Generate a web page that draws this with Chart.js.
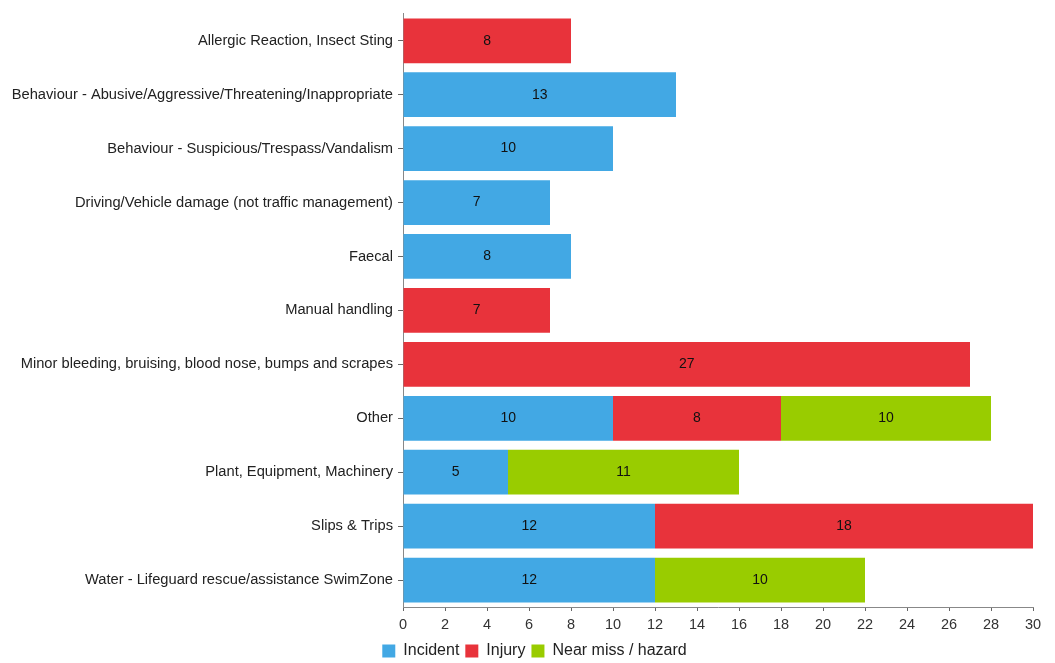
<!DOCTYPE html>
<html>
<head>
<meta charset="utf-8">
<script src="https://cdn.jsdelivr.net/npm/chart.js@4"></script>
<style>
  html, body { margin: 0; padding: 0; background: #fff; }
  #wrap { width: 1055px; height: 663px; }
</style>
</head>
<body>
<div id="wrap"><canvas id="chart"></canvas></div>
<script>
const categories = [
	"Allergic Reaction, Insect Sting",
	"Behaviour - Abusive/Aggressive/Threatening/Inappropriate",
	"Behaviour - Suspicious/Trespass/Vandalism",
	"Driving/Vehicle damage (not traffic management)",
	"Faecal",
	"Manual handling",
	"Minor bleeding, bruising, blood nose, bumps and scrapes",
	"Other",
	"Plant, Equipment, Machinery",
	"Slips & Trips",
	"Water - Lifeguard rescue/assistance SwimZone",
];

const incident = [0, 13, 10, 7, 8, 0, 0, 10, 5, 12, 12];
const injury = [8, 0, 0, 0, 0, 7, 27, 8, 0, 18, 0];
const nearMiss = [0, 0, 0, 0, 0, 0, 0, 10, 11, 0, 10];

const font = "'Liberation Sans', Arial, sans-serif";

// values in the middle of each segment
const barValues = {
	id: "barValues",
	afterDatasetsDraw(chart) {
		const { ctx } = chart;
		ctx.save();
		ctx.font = `14px ${font}`;
		ctx.fillStyle = "#111";
		ctx.textAlign = "center";
		ctx.textBaseline = "middle";
		chart.data.datasets.forEach((ds, i) => {
			chart.getDatasetMeta(i).data.forEach((bar, j) => {
				const v = ds.data[j];
				if (!v) return;
				ctx.fillText(String(v), (bar.x + bar.base) / 2, bar.y);
			});
		});
		ctx.restore();
	},
};

// legend in the original sits a bit right of the canvas centre
const legendShift = {
	id: "legendShift",
	afterLayout(chart) {
		if (!chart.legend) return;
		chart.legend.left += 18;
		chart.legend.right += 18;
		chart.legend.adjustHitBoxes && chart.legend.adjustHitBoxes();
	},
};

new Chart(document.getElementById("chart"), {
	type: "bar",
	plugins: [barValues, legendShift],
	data: {
		labels: categories,
		datasets: [
			{ label: "Incident", data: incident, backgroundColor: "#42a8e4" },
			{ label: "Injury", data: injury, backgroundColor: "#e8333b" },
			{ label: "Near miss / hazard", data: nearMiss, backgroundColor: "#99cc00" },
		],
	},
	options: {
		indexAxis: "y",
		responsive: true,
		maintainAspectRatio: false,
		animation: false,
		layout: { padding: { top: 9, right: 22, left: 0, bottom: -6 } },
		datasets: { bar: { categoryPercentage: 0.83, barPercentage: 1 } },
		scales: {
			x: {
				stacked: true,
				min: 0,
				max: 30,
				ticks: { stepSize: 2, color: "#333", font: { family: font, size: 14.5 }, padding: 5 },
				grid: { drawOnChartArea: false, drawTicks: true, tickLength: 4, color: "#666" },
				border: { display: true, color: "#888", width: 1 },
				afterFit: s => { s.height = 30; },
			},
			y: {
				stacked: true,
				ticks: { color: "#222", font: { family: font, size: 14.7 }, padding: 5 },
				grid: { offset: false, drawOnChartArea: false, drawTicks: true, tickLength: 5, color: "#666" },
				border: { display: true, color: "#888", width: 1 },
				afterFit: s => { s.width = 403; },
			},
		},
		plugins: {
			tooltip: { enabled: false },
			legend: {
				position: "bottom",
				labels: {
					boxWidth: 13,
					boxHeight: 13,
					padding: 6,
					color: "#222",
					font: { family: font, size: 16 },
				},
			},
		},
	},
});
</script>
</body>
</html>
